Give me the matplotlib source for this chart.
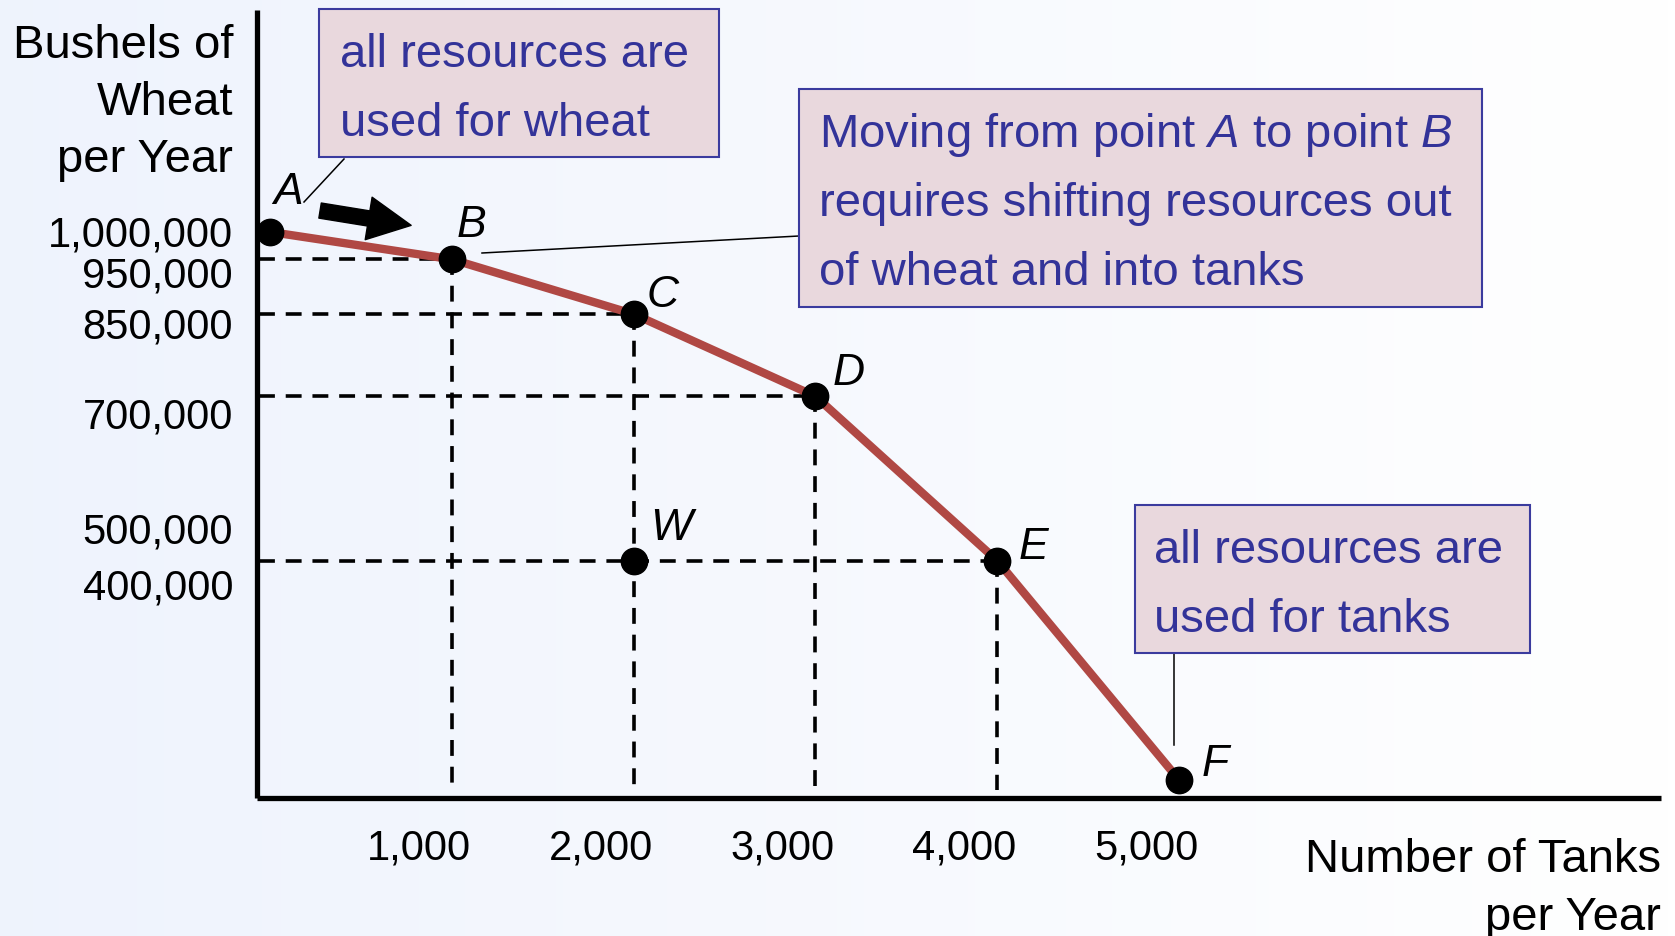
import matplotlib
matplotlib.use("Agg")
import matplotlib.pyplot as plt
import numpy as np
from matplotlib.patches import Rectangle
from matplotlib.lines import Line2D
from matplotlib.transforms import ScaledTranslation

plt.rcParams["font.family"] = ["Liberation Sans", "DejaVu Sans"]
plt.rcParams["mathtext.fontset"] = "custom"
plt.rcParams["mathtext.rm"] = "Liberation Sans"
plt.rcParams["mathtext.it"] = "Liberation Sans:italic"

# --- data: production possibilities (tanks vs wheat) ---
point_names = ["A", "B", "C", "D", "E", "F"]
tanks = [0, 1000, 2000, 3000, 4000, 5000]
wheat = [1_000_000, 950_000, 850_000, 700_000, 400_000, 0]
w_name, w_tanks, w_wheat = "W", 2000, 400_000

xtick_values = [1000, 2000, 3000, 4000, 5000]
xtick_labels = ["1,000", "2,000", "3,000", "4,000", "5,000"]
ytick_values = [1_000_000, 950_000, 850_000, 700_000, 500_000, 400_000]
ytick_labels = ["1,000,000", "950,000", "850,000", "700,000", "500,000", "400,000"]

ylabel_lines = ["Bushels of", "Wheat", "per Year"]
xlabel_lines = ["Number of Tanks", "per Year"]
box_wheat = ["all resources are", "used for wheat"]
box_move = [r"Moving from point $A$ to point $B$",
            "requires shifting resources out",
            "of wheat and into tanks"]
box_tanks = ["all resources are", "used for tanks"]

# --- layout (pixels of the 1675x937 canvas) ---
W, H = 1675, 937
CURVE = "#B04844"
NOTE_TXT = "#333399"
NOTE_BG = "#E9D8DD"
NOTE_EDGE = "#3B3B9E"


def fx(x):
    return x / W


def fy(y):
    return 1 - y / H


fig = plt.figure(figsize=(W / 100, H / 100), dpi=100)

# soft blue-to-white background
bg = fig.add_axes([0, 0, 1, 1], zorder=-10)
g = np.linspace(0, 1, 256)[None, :, None]
c0 = np.array([0.935, 0.953, 0.992])
c1 = np.array([1.0, 1.0, 1.0])
bg.imshow(c0 + (c1 - c0) * g, aspect="auto", extent=[0, 1, 0, 1])
bg.axis("off")

ax = fig.add_axes([fx(257), fy(799), fx(1661 - 257), (799 - 11) / H])
ax.patch.set_alpha(0)
ax.set_xlim(-72, 7651)
ax.set_ylim(-33_000, 1_405_000)
for s in ("top", "right"):
    ax.spines[s].set_visible(False)
for s in ("left", "bottom"):
    ax.spines[s].set_linewidth(3.8)
    ax.spines[s].set_capstyle("butt")
ax.set_xticks([])
ax.set_yticks([])

# dashed guide lines
dash = dict(color="black", lw=2.6, linestyle=(0, (4.4, 3.0)), zorder=1)
for t, w in zip(tanks[1:5], wheat[1:5]):
    ax.plot([-60, t], [w, w], **dash)
    ax.plot([t, t], [w, -18_000], **dash)

# frontier curve and points
ax.plot(tanks, wheat, color=CURVE, lw=6, solid_capstyle="round",
        solid_joinstyle="round", zorder=2)
ax.plot(tanks, wheat, "o", color="black", ms=19, zorder=3, clip_on=False)
ax.plot([w_tanks], [w_wheat], "o", color="black", ms=19, zorder=3)

label_offsets = [(13, 29), (14, 25), (21, 14), (24, 17), (26, 10), (26, 12)]
for name, t, w, off in zip(point_names, tanks, wheat, label_offsets):
    ax.annotate(name, (t, w), xytext=off, textcoords="offset points",
                ha="center", va="center", fontsize=32, style="italic")
ax.annotate(w_name, (w_tanks, w_wheat), xytext=(27, 24), textcoords="offset points",
            ha="center", va="center", fontsize=32, style="italic")

# arrow from A toward B
ax.annotate("", xy=(776, 1_012_000), xytext=(275, 1_039_000),
            arrowprops=dict(arrowstyle="simple,head_length=3.1,head_width=3.1,tail_width=1.1",
                            mutation_scale=10, color="black", shrinkA=0, shrinkB=0))

# tick labels (drawn as text so they can sit where the original puts them)
xoff = ScaledTranslation(-33 / 100, -61 / 100, fig.dpi_scale_trans)
for v, lab in zip(xtick_values, xtick_labels):
    ax.text(v, 0, lab, transform=ax.get_xaxis_transform() + xoff,
            ha="center", va="baseline", fontsize=30)
ynudge = [14, 27, 23, 31, 37, 38]
for v, lab, dy in zip(ytick_values, ytick_labels, ynudge):
    off = ScaledTranslation(-24 / 100, -dy / 100, fig.dpi_scale_trans)
    ax.text(0, v, lab, transform=ax.get_yaxis_transform() + off,
            ha="right", va="baseline", fontsize=30)

# axis titles
for i, line in enumerate(ylabel_lines):
    fig.text(fx(233), fy(58 + 57 * i), line, ha="right", va="baseline", fontsize=34)
for i, line in enumerate(xlabel_lines):
    fig.text(fx(1661), fy(872 + 58 * i), line, ha="right", va="baseline", fontsize=34)


def note(x0, y0, x1, y1, lines, tx, base0, step=69):
    fig.add_artist(Rectangle((fx(x0), fy(y1)), fx(x1 - x0), (y1 - y0) / H,
                             transform=fig.transFigure, facecolor=NOTE_BG,
                             edgecolor=NOTE_EDGE, lw=1.5, zorder=5))
    for i, line in enumerate(lines):
        fig.text(fx(tx), fy(base0 + step * i), line, ha="left", va="baseline",
                 fontsize=34, color=NOTE_TXT, zorder=6)


def leader(x0, y0, x1, y1):
    fig.add_artist(Line2D([fx(x0), fx(x1)], [fy(y0), fy(y1)],
                          transform=fig.transFigure, color="black", lw=1.1, zorder=4))


note(319, 10, 719, 158, box_wheat, 340, 67)
note(799, 90, 1482, 308, box_move, 819, 147)
note(1135, 506, 1530, 654, box_tanks, 1154, 563)

leader(344, 160, 304, 203)
leader(799, 237, 482, 254)
leader(1174, 654, 1174, 746)

fig.savefig("out.png", dpi=100)
